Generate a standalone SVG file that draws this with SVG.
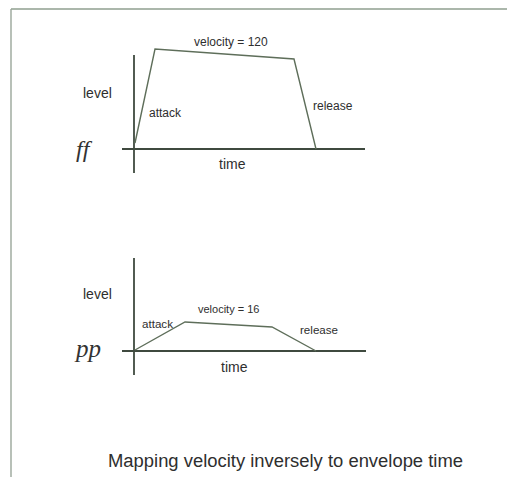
<svg xmlns="http://www.w3.org/2000/svg" width="507" height="477" viewBox="0 0 507 477">
<style>
.t{font-family:"Liberation Sans",Arial,sans-serif;fill:#2e2e2e}
.ax{stroke:#3f4a3f;stroke-width:1.8;fill:none}
.env{stroke:#5e6e5a;stroke-width:1.4;fill:none;stroke-linejoin:miter}
.dyn{font-family:"Liberation Serif","Times New Roman",serif;font-style:italic;fill:#333}
</style>
<rect width="507" height="477" fill="#ffffff"/>
<g id="frame">
<line x1="11" y1="9" x2="507" y2="9" stroke="#8f9f8f" stroke-width="1.6"/>
<line x1="11" y1="9" x2="11" y2="477" stroke="#9aa69a" stroke-width="1.4"/>
</g>
<g id="chart-ff">
<g id="axes-ff">
<line class="ax" x1="134" y1="55" x2="134" y2="173"/>
<line class="ax" x1="122" y1="149" x2="365" y2="149"/>
</g>
<g id="envelope-ff">
<polyline class="env" points="135,143 155,49 294,59 316,149"/>
</g>
<text class="t" x="83" y="98" font-size="14">level</text>
<text class="t" x="194" y="46" font-size="12">velocity = 120</text>
<text class="t" x="149" y="117" font-size="12">attack</text>
<text class="t" x="313" y="110" font-size="12">release</text>
<text class="t" x="219" y="169" font-size="14">time</text>
<text class="dyn" x="76" y="157" font-size="24">ff</text>
</g>
<g id="chart-pp">
<g id="axes-pp">
<line class="ax" x1="134" y1="258" x2="134" y2="375"/>
<line class="ax" x1="122" y1="351" x2="366" y2="351"/>
</g>
<g id="envelope-pp">
<polyline class="env" points="135,350 185,322 272,327 316,351"/>
</g>
<text class="t" x="83" y="299" font-size="14">level</text>
<text class="t" x="198" y="313" font-size="11">velocity = 16</text>
<text class="t" x="142" y="328" font-size="11.6">attack</text>
<text class="t" x="300" y="334" font-size="11.6">release</text>
<text class="t" x="221" y="372" font-size="14">time</text>
<text class="dyn" x="76" y="357" font-size="25">pp</text>
</g>
<g id="caption">
<text class="t" x="108" y="467" font-size="18" textLength="355" lengthAdjust="spacingAndGlyphs">Mapping velocity inversely to envelope time</text>
</g>
</svg>
